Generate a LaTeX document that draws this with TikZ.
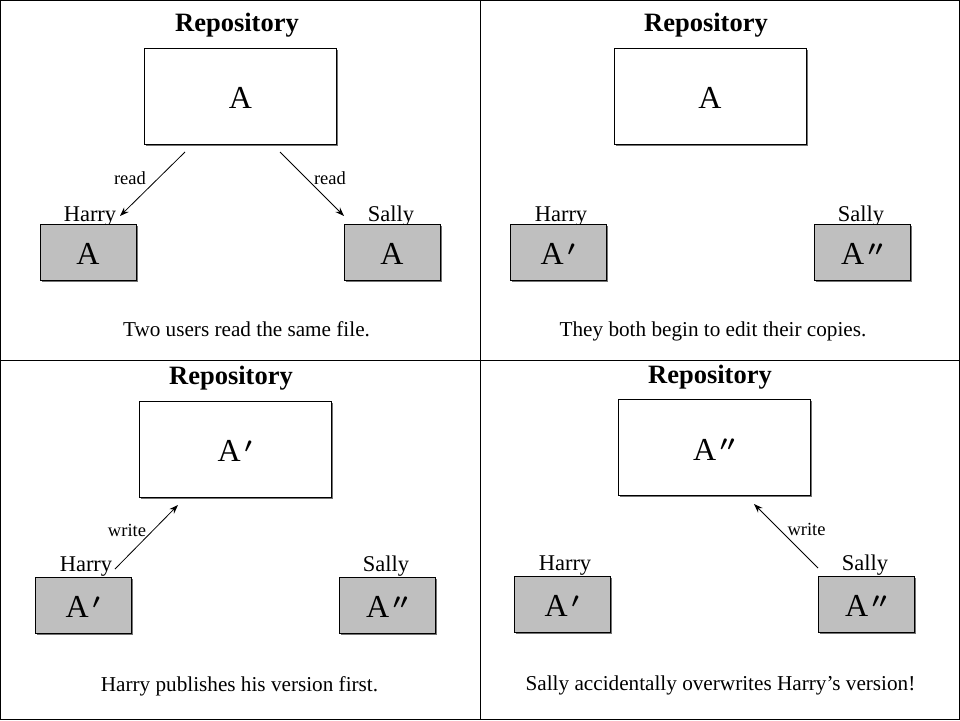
\documentclass[tikz,border=0pt]{standalone}
\usepackage{fontspec}
\setmainfont{Liberation Serif}
\newcommand\myprime{\kern4pt{\boldmath$^{\prime}$}}
\newcommand\mydprime{\kern4pt{\boldmath$^{\prime\prime}$}}
\usetikzlibrary{arrows.meta,shadows}
\begin{document}
\begin{tikzpicture}[x=1pt,y=-1pt,
  repobox/.style={draw=black,line width=0.9pt,fill=white,minimum width=192pt,minimum height=96pt,inner sep=0pt,
    font=\fontsize{32}{34}\selectfont,text height=25pt,text depth=0pt,
    drop shadow={shadow xshift=1.5pt,shadow yshift=-1.5pt,fill=black!55,opacity=1}},
  copybox/.style={draw=black,line width=0.9pt,fill=black!25,minimum width=96pt,minimum height=56pt,inner sep=0pt,
    font=\fontsize{32}{34}\selectfont,text height=25pt,text depth=0pt,
    drop shadow={shadow xshift=1.5pt,shadow yshift=-1.5pt,fill=black!55,opacity=1}},
  titletxt/.style={font=\bfseries\fontsize{26.5}{30}\selectfont,inner sep=0pt,anchor=base},
  whotxt/.style={font=\fontsize{22.5}{26}\selectfont,inner sep=0pt,anchor=base},
  lbltxt/.style={font=\fontsize{18.5}{22}\selectfont,inner sep=0pt,anchor=base},
  captxt/.style={font=\fontsize{21.2}{24}\selectfont,inner sep=0pt,anchor=base},
  arrline/.style={line width=0.8pt,-{Stealth[length=9pt,width=6.5pt]}},
  gridline/.style={line width=0.8pt}]
\useasboundingbox (0,0) rectangle (960,720);
% frame and grid
\draw[gridline] (0.5,0.5) rectangle (959.5,719.5);
\coordinate (vt) at (480,0); \coordinate (vb) at (480,720);
\coordinate (hl) at (0,360); \coordinate (hr) at (960,360);
\draw[gridline] (vt) -- (vb);
\draw[gridline] (hl) -- (hr);

% ---- Panel 1
\node[titletxt] (t1) at (237,31.5) {Repository};
\node[repobox] (r1) at (240.5,96) {A};
\node[whotxt] (h1l) at (90,221.5) {Harry};
\node[copybox] (h1) at (88,252) {A};
\node[whotxt] (s1l) at (391,221.5) {Sally};
\node[copybox] (s1) at (392,252) {A};
\coordinate (a1s) at (185,152); \coordinate (a1e) at (120,216);
\coordinate (b1s) at (280,152); \coordinate (b1e) at (344,216);
\draw[arrline] (a1s) -- (a1e);
\draw[arrline] (b1s) -- (b1e);
\node[lbltxt] (l1a) at (130,184.5) {read};
\node[lbltxt] (l1b) at (330,184.5) {read};
\node[captxt] (c1) at (246.5,336.5) {Two users read the same file.};

% ---- Panel 2
\node[titletxt] (t2) at (706,31.5) {Repository};
\node[repobox] (r2) at (710,96) {A};
\node[whotxt] (h2l) at (561,221.5) {Harry};
\node[copybox] (h2) at (558,252) {A\myprime};
\node[whotxt] (s2l) at (861,221.5) {Sally};
\node[copybox] (s2) at (862,252) {A\mydprime};
\node[captxt] (c2) at (713,336.5) {They both begin to edit their copies.};

% ---- Panel 3
\node[titletxt] (t3) at (231,384.5) {Repository};
\node[repobox] (r3) at (235,449) {A\myprime};
\node[whotxt] (h3l) at (86,571.5) {Harry};
\node[copybox] (h3) at (83,605) {A\myprime};
\node[whotxt] (s3l) at (386,571.5) {Sally};
\node[copybox] (s3) at (387,605) {A\mydprime};
\coordinate (a3s) at (115,569); \coordinate (a3e) at (178,505);
\draw[arrline] (a3s) -- (a3e);
\node[lbltxt] (l3) at (127,536) {write};
\node[captxt] (c3) at (239.5,691.5) {Harry publishes his version first.};

% ---- Panel 4
\node[titletxt] (t4) at (710,383.5) {Repository};
\node[repobox] (r4) at (714,447.5) {A\mydprime};
\node[whotxt] (h4l) at (565,570.5) {Harry};
\node[copybox] (h4) at (562,604) {A\myprime};
\node[whotxt] (s4l) at (865,570.5) {Sally};
\node[copybox] (s4) at (866,604) {A\mydprime};
\coordinate (a4s) at (818,568); \coordinate (a4e) at (754,504);
\draw[arrline] (a4s) -- (a4e);
\node[lbltxt] (l4) at (806.5,535) {write};
\node[captxt] (c4) at (720.5,690.5) {Sally accidentally overwrites Harry’s version!};
\end{tikzpicture}
\end{document}
